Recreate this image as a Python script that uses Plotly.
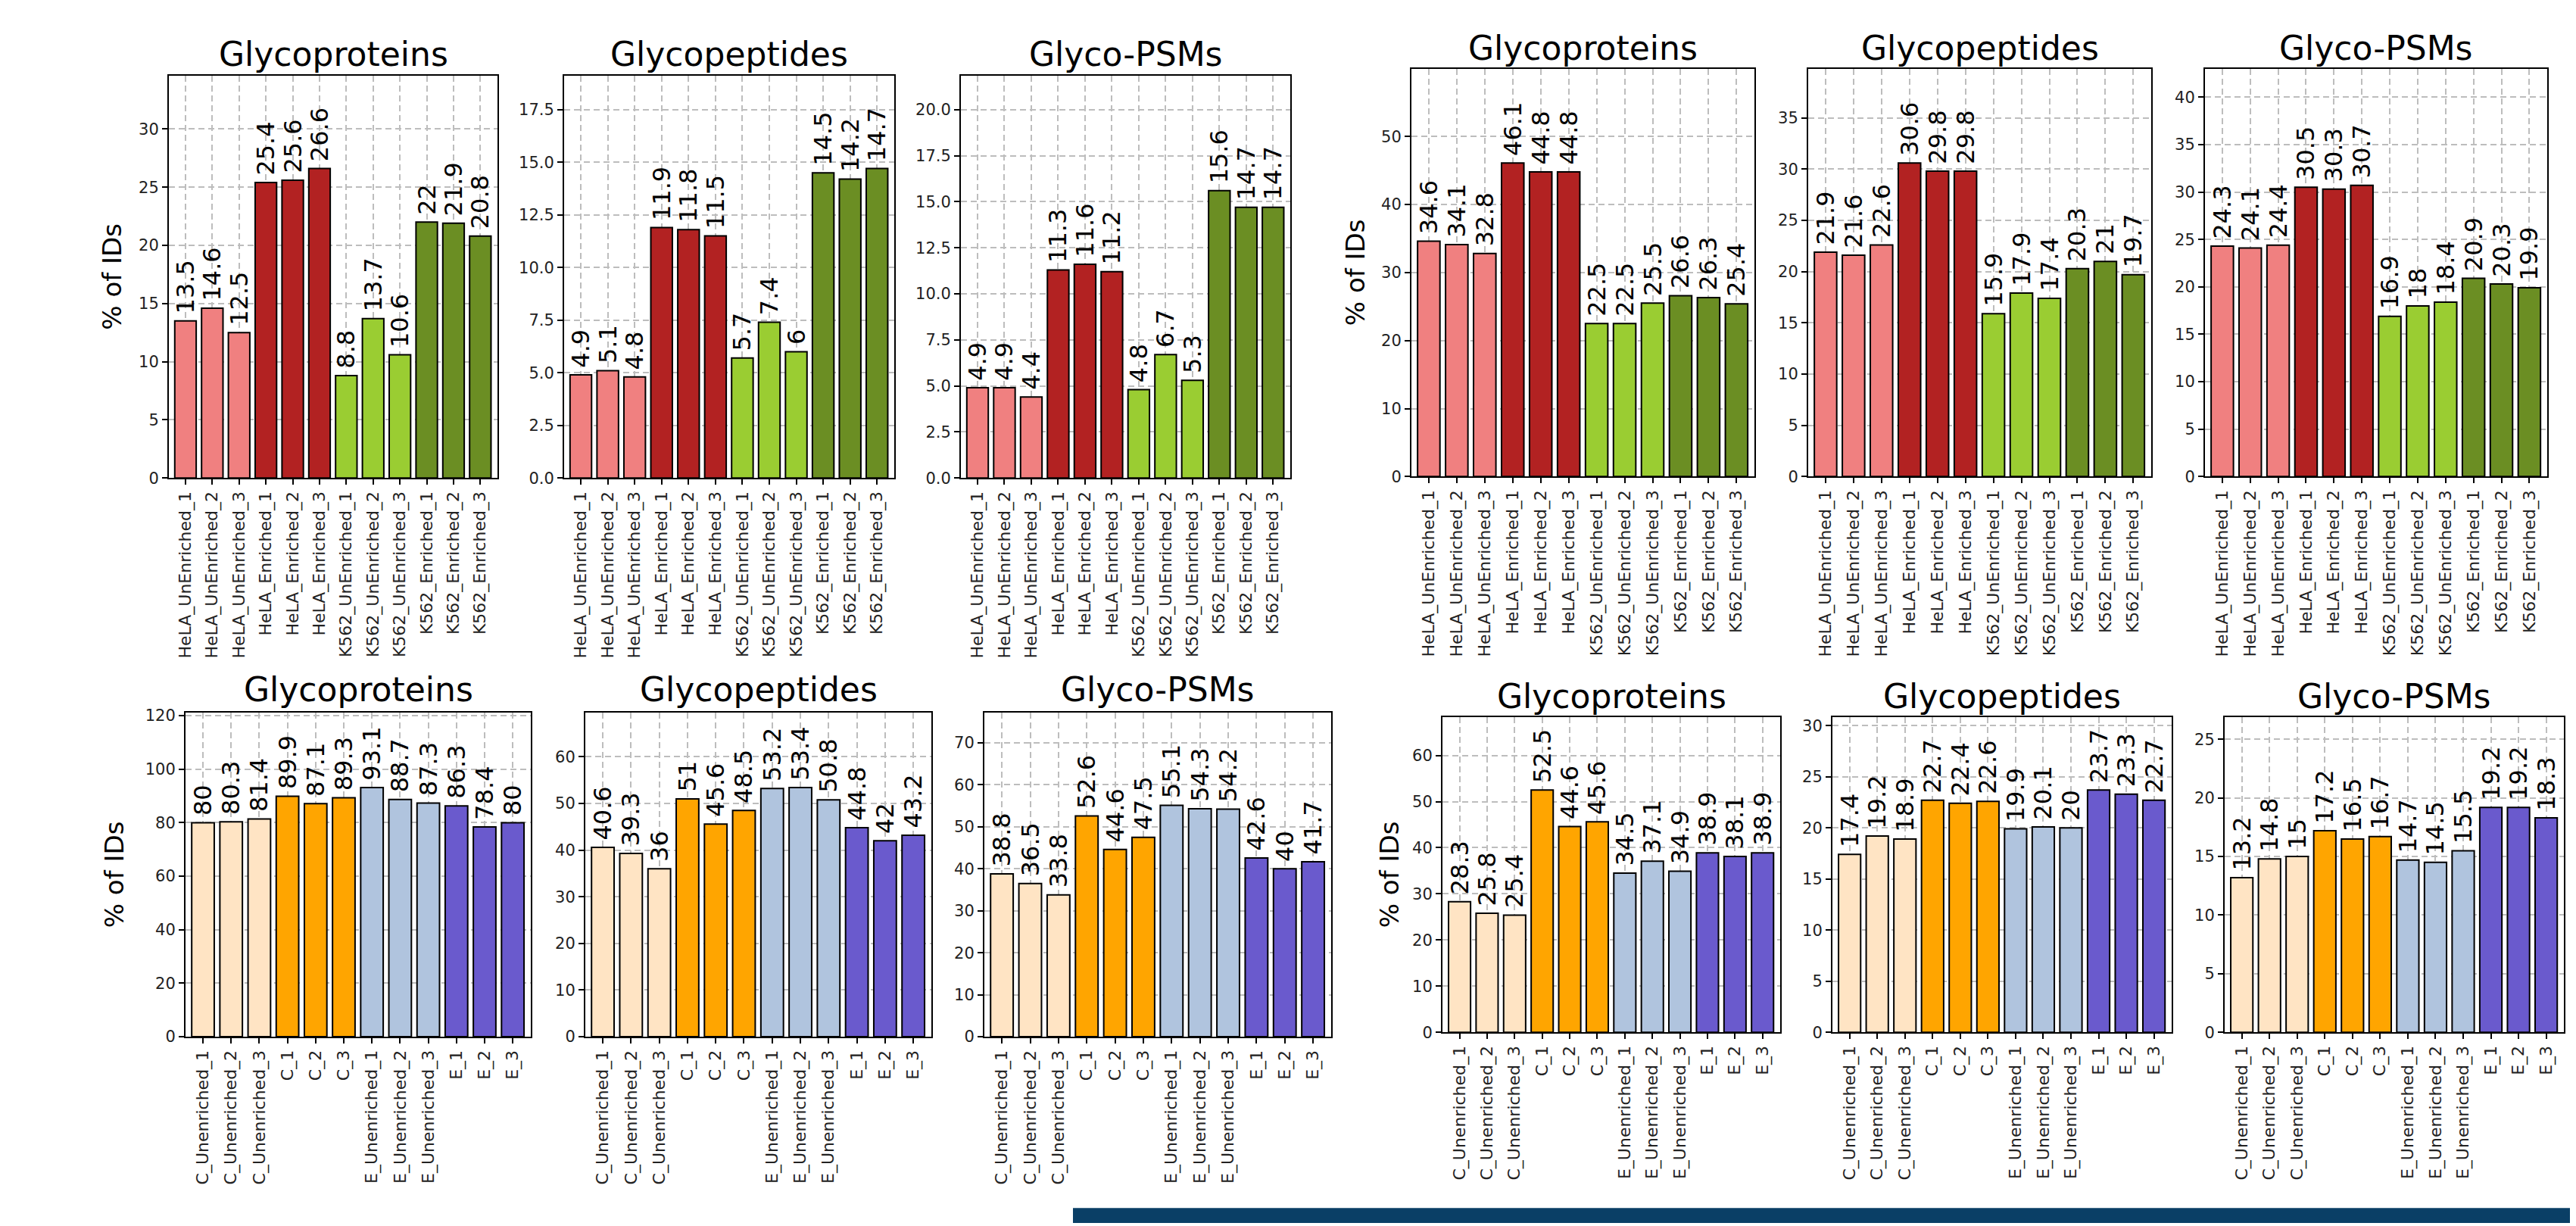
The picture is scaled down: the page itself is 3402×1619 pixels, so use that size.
import plotly.graph_objects as go

# ---------------- data ----------------
top_categories = [
    "HeLA_UnEnriched_1", "HeLA_UnEnriched_2", "HeLA_UnEnriched_3",
    "HeLA_Enriched_1", "HeLA_Enriched_2", "HeLA_Enriched_3",
    "K562_UnEnriched_1", "K562_UnEnriched_2", "K562_UnEnriched_3",
    "K562_Enriched_1", "K562_Enriched_2", "K562_Enriched_3",
]
bottom_categories = [
    "C_Unenriched_1", "C_Unenriched_2", "C_Unenriched_3",
    "C_1", "C_2", "C_3",
    "E_Unenriched_1", "E_Unenriched_2", "E_Unenriched_3",
    "E_1", "E_2", "E_3",
]

top_left_glycoproteins = [13.5, 14.6, 12.5, 25.4, 25.6, 26.6, 8.8, 13.7, 10.6, 22, 21.9, 20.8]
top_left_glycopeptides = [4.9, 5.1, 4.8, 11.9, 11.8, 11.5, 5.7, 7.4, 6, 14.5, 14.2, 14.7]
top_left_glycopsms = [4.9, 4.9, 4.4, 11.3, 11.6, 11.2, 4.8, 6.7, 5.3, 15.6, 14.7, 14.7]

top_right_glycoproteins = [34.6, 34.1, 32.8, 46.1, 44.8, 44.8, 22.5, 22.5, 25.5, 26.6, 26.3, 25.4]
top_right_glycopeptides = [21.9, 21.6, 22.6, 30.6, 29.8, 29.8, 15.9, 17.9, 17.4, 20.3, 21, 19.7]
top_right_glycopsms = [24.3, 24.1, 24.4, 30.5, 30.3, 30.7, 16.9, 18, 18.4, 20.9, 20.3, 19.9]

bottom_left_glycoproteins = [80, 80.3, 81.4, 89.9, 87.1, 89.3, 93.1, 88.7, 87.3, 86.3, 78.4, 80]
bottom_left_glycopeptides = [40.6, 39.3, 36, 51, 45.6, 48.5, 53.2, 53.4, 50.8, 44.8, 42, 43.2]
bottom_left_glycopsms = [38.8, 36.5, 33.8, 52.6, 44.6, 47.5, 55.1, 54.3, 54.2, 42.6, 40, 41.7]

bottom_right_glycoproteins = [28.3, 25.8, 25.4, 52.5, 44.6, 45.6, 34.5, 37.1, 34.9, 38.9, 38.1, 38.9]
bottom_right_glycopeptides = [17.4, 19.2, 18.9, 22.7, 22.4, 22.6, 19.9, 20.1, 20, 23.7, 23.3, 22.7]
bottom_right_glycopsms = [13.2, 14.8, 15, 17.2, 16.5, 16.7, 14.7, 14.5, 15.5, 19.2, 19.2, 18.3]

top_group_colors = ["#F08080", "#B22222", "#9ACD32", "#6B8E23"]
bottom_group_colors = ["#FFE4C4", "#FFA500", "#B0C4DE", "#6A5ACD"]

# ---------------- layout ----------------
W, H = 3402, 1619
FONT = "DejaVu Sans"

def bar_colors(groups):
    return [c for c in groups for _ in range(3)]

panels = [
    # title, cats, vals, colors, (left, right, top, bottom) px, dtick, tickformat, headroom, title_y, ylabel_x
    ("Glycoproteins", top_categories, top_left_glycoproteins, top_group_colors, (215, 649, 85, 623), 5, "", 1.3, 56, 140),
    ("Glycopeptides", top_categories, top_left_glycopeptides, top_group_colors, (737, 1173, 85, 623), 2.5, ".1f", 1.3, 56, None),
    ("Glyco-PSMs", top_categories, top_left_glycopsms, top_group_colors, (1261, 1696, 85, 623), 2.5, ".1f", 1.4, 56, None),
    ("Glycoproteins", top_categories, top_right_glycoproteins, top_group_colors, (1856, 2309, 76, 621), 10, "", 1.3, 48, 1782),
    ("Glycopeptides", top_categories, top_right_glycopeptides, top_group_colors, (2380, 2833, 76, 621), 5, "", 1.3, 48, None),
    ("Glyco-PSMs", top_categories, top_right_glycopsms, top_group_colors, (2904, 3356, 76, 621), 5, "", 1.4, 48, None),
    ("Glycoproteins", bottom_categories, bottom_left_glycoproteins, bottom_group_colors, (237, 693, 937, 1370), 20, "", 1.3, 906, 143),
    ("Glycopeptides", bottom_categories, bottom_left_glycopeptides, bottom_group_colors, (765, 1222, 937, 1370), 10, "", 1.3, 906, None),
    ("Glyco-PSMs", bottom_categories, bottom_left_glycopsms, bottom_group_colors, (1292, 1750, 937, 1370), 10, "", 1.4, 906, None),
    ("Glycoproteins", bottom_categories, bottom_right_glycoproteins, bottom_group_colors, (1897, 2343, 943, 1364), 10, "", 1.3, 915, 1827),
    ("Glycopeptides", bottom_categories, bottom_right_glycopeptides, bottom_group_colors, (2412, 2860, 943, 1364), 5, "", 1.3, 915, None),
    ("Glyco-PSMs", bottom_categories, bottom_right_glycopsms, bottom_group_colors, (2930, 3378, 943, 1364), 5, "", 1.4, 915, None),
]

fig = go.Figure()
layout = dict(
    width=W, height=H, autosize=False,
    margin=dict(l=0, r=0, t=0, b=0),
    paper_bgcolor="white", plot_bgcolor="white",
    showlegend=False,
    font=dict(family=FONT, color="black"),
    bargap=0.2,
)
annotations = []

for i, (title, cats, vals, groups, box, dtick, fmt, headroom, title_y, ylabel_x) in enumerate(panels):
    n = "" if i == 0 else str(i + 1)
    xa, ya = "x" + n, "y" + n
    left, right, top, bottom = box
    fig.add_trace(go.Bar(
        x=cats, y=vals, xaxis=xa, yaxis=ya,
        marker=dict(color=bar_colors(groups), line=dict(color="black", width=2)),
        width=0.8,
        text=["\u2009" + f"{v:g}" for v in vals],
        textposition="outside", textangle=-90,
        textfont=dict(family=FONT, size=32, color="black"),
        constraintext="none", cliponaxis=False,
        hoverinfo="x+y",
    ))
    common = dict(
        showline=True, mirror=True, linecolor="black", linewidth=2,
        ticks="outside", ticklen=7, tickwidth=1.5, tickcolor="black",
        showgrid=True, gridcolor="#bdbdbd", gridwidth=1.5, griddash="8px,5px",
        zeroline=False, tickfont=dict(family=FONT, size=21, color="#222"),
    )
    layout["xaxis" + n] = dict(
        common, domain=[left / W, right / W], anchor=ya,
        type="category", range=[-0.62, 11.64], tickangle=-90,
        tickfont=dict(family=FONT, size=22, color="#222"),
    )
    layout["yaxis" + n] = dict(
        common, domain=[1 - bottom / H, 1 - top / H], anchor=xa,
        range=[0, max(vals) * headroom], dtick=dtick, tick0=0, tickformat=fmt,
    )
    annotations.append(dict(
        text=title, xref="paper", yref="paper",
        x=(left + right) / 2 / W, y=1 - title_y / H,
        xanchor="center", yanchor="middle", showarrow=False,
        font=dict(family=FONT, size=44, color="black"),
    ))
    if ylabel_x is not None:
        annotations.append(dict(
            text="% of IDs", xref="paper", yref="paper",
            x=ylabel_x / W, y=1 - (top + bottom) / 2 / H,
            xanchor="center", yanchor="middle", textangle=-90, showarrow=False,
            font=dict(family=FONT, size=34, color="black"),
        ))

layout["annotations"] = annotations
layout["shapes"] = [dict(
    type="rect", xref="paper", yref="paper",
    x0=1409 / W, x1=1, y0=0, y1=20 / H,
    fillcolor="#0A3F66", line=dict(width=0), layer="above",
)]
fig.update_layout(**layout)
fig.write_html("out.html")
